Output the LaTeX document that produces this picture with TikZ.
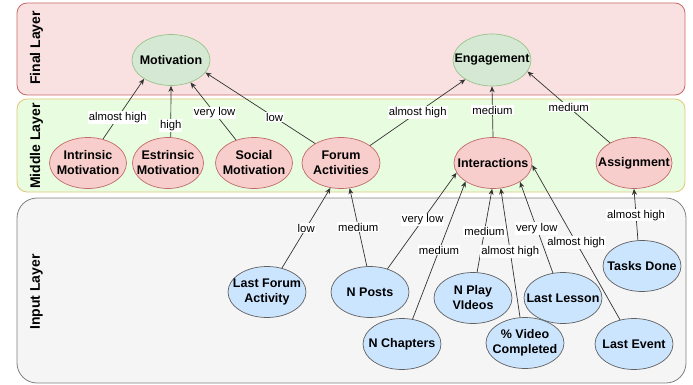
\documentclass[tikz,border=0pt]{standalone}
\usepackage{fontspec}
\setmainfont{Liberation Sans}
\usetikzlibrary{shapes.geometric,arrows.meta}
\definecolor{finfill}{HTML}{F8E1E0}
\definecolor{finline}{HTML}{C8686A}
\definecolor{midfill}{HTML}{E8FCE0}
\definecolor{midline}{HTML}{E0C878}
\definecolor{inpfill}{HTML}{F5F5F5}
\definecolor{inpline}{HTML}{808080}
\definecolor{grfill}{HTML}{D5E8D4}
\definecolor{grline}{HTML}{9AC38A}
\definecolor{pkfill}{HTML}{F8CECC}
\definecolor{pkline}{HTML}{C06A68}
\definecolor{blfill}{HTML}{CCE5FF}
\definecolor{blline}{HTML}{606060}
\definecolor{edgecol}{HTML}{333333}
\tikzset{
  layerbox/.style={line width=0.8pt},
  layertitle/.style={rotate=90,font=\fontsize{14}{16}\selectfont\bfseries,inner sep=0pt},
  ellbase/.style={ellipse,inner sep=0pt,line width=0.7pt,minimum width=78pt,minimum height=51pt},
  grell/.style={ellbase,fill=grfill,draw=grline},
  pkell/.style={ellbase,fill=pkfill,draw=pkline},
  blell/.style={ellbase,fill=blfill,draw=blline},
  ntext/.style={font=\fontsize{12.5}{15}\selectfont\bfseries,align=center,inner sep=0pt},
  conn/.style={draw=edgecol,line width=0.7pt,-{Stealth[length=6pt,width=5pt]}},
  elabel/.style={fill=white,inner sep=1pt,font=\fontsize{11.3}{13}\selectfont,text=black}
}
\begin{document}
\begin{tikzpicture}[x=1pt,y=-1pt]
\useasboundingbox (0,0) rectangle (693,385);
% layers
\draw[layerbox,fill=finfill,draw=finline,rounded corners=10pt] (17,3) rectangle (685,95);
\draw[layerbox,fill=midfill,draw=midline,rounded corners=10pt] (17,99) rectangle (685,192);
\draw[layerbox,fill=inpfill,draw=inpline,rounded corners=20pt] (17,198) rectangle (686,383);
\node[layertitle] (tfinal) at (36.5,48) {Final Layer};
\node[layertitle] (tmid) at (36.5,146) {Middle Layer};
\node[layertitle] (tinp) at (36.5,292) {Input Layer};
% final layer nodes
\node[grell] (mot) at (171,60) {};
\node[ntext] (motT) at (mot) {Motivation};
\node[grell,minimum height=52pt] (eng) at (492,60) {};
\node[ntext] (engT) at (eng) {Engagement};
% middle layer
\node[pkell,minimum width=77pt] (intr) at (88,163) {};
\node[ntext] (intrT) at (intr) {Intrinsic\\Motivation};
\node[pkell,minimum width=71pt] (estr) at (168,163) {};
\node[ntext] (estrT) at (estr) {Estrinsic\\Motivation};
\node[pkell,minimum width=77pt] (soc) at (254,163) {};
\node[ntext] (socT) at (soc) {Social\\Motivation};
\node[pkell] (forum) at (341,163) {};
\node[ntext] (forumT) at (forum) {Forum\\Activities};
\node[pkell] (inter) at (493,163) {};
\node[ntext] (interT) at (inter) {Interactions};
\node[pkell,minimum width=76pt] (assign) at (634,163) {};
\node[ntext] (assignT) at (assign) {Assignment};
% input layer
\node[blell] (lfa) at (267,292) {};
\node[ntext] (lfaT) at (lfa) {Last Forum\\Activity};
\node[blell] (nposts) at (370,292) {};
\node[ntext] (npostsT) at (nposts) {N Posts};
\node[blell] (nchap) at (402,344) {};
\node[ntext] (nchapT) at (nchap) {N Chapters};
\node[blell] (npv) at (473,298) {};
\node[ntext] (npvT) at (npv) {N Play\\VIdeos};
\node[blell] (pvc) at (525,343) {};
\node[ntext] (pvcT) at (pvc) {\% Video\\Completed};
\node[blell] (lles) at (563,298) {};
\node[ntext] (llesT) at (lles) {Last Lesson};
\node[blell] (levt) at (634,344) {};
\node[ntext] (levtT) at (levt) {Last Event};
\node[blell] (tasks) at (642,266) {};
\node[ntext] (tasksT) at (tasks) {Tasks Done};
% connectors middle -> final
\draw[conn] (intr.58) -- node[elabel,pos=0.36] (l1) {almost high} (mot.215);
\draw[conn] (estr.84) -- node[elabel,pos=0.23] (l2) {high} (mot.270);
\draw[conn] (soc.128) -- node[elabel,pos=0.47] (l3) {very low} (mot.311);
\draw[conn] (forum.143) -- node[elabel,pos=0.37] (l4) {low} (mot.340);
\draw[conn] (forum.31) -- node[elabel,pos=0.5] (l5) {almost high} (eng.216);
\draw[conn] (inter.90) -- node[elabel,pos=0.53] (l6) {medium} (eng.270);
\draw[conn] (assign.140) -- node[elabel,pos=0.5] (l7) {medium} (eng.342);
% connectors input -> middle
\draw[conn] (lfa.58) -- node[elabel,pos=0.5] (l8) {low} (forum.247);
\draw[conn] (nposts.97) -- node[elabel,pos=0.5] (l9) {medium} (forum.289);
\draw[conn] (nposts.53) -- node[elabel,pos=0.51] (l10) {very low} (inter.195);
\draw[conn] (nchap.67) -- node[elabel,pos=0.5] (l11) {medium} (inter.214);
\draw[conn] (npv.81) -- node[elabel,pos=0.49] (l12) {medium} (inter.268);
\draw[conn] (pvc.101) -- node[elabel,pos=0.51] (l13) {almost high} (inter.287);
\draw[conn] (lles.112) -- node[elabel,pos=0.49] (l14) {very low} (inter.325);
\draw[conn] (levt.120) -- node[elabel,pos=0.5] (l15) {almost high} (inter.357);
\draw[conn] (tasks.99) -- node[elabel,pos=0.49] (l16) {almost high} (assign.270);
\end{tikzpicture}
\end{document}
